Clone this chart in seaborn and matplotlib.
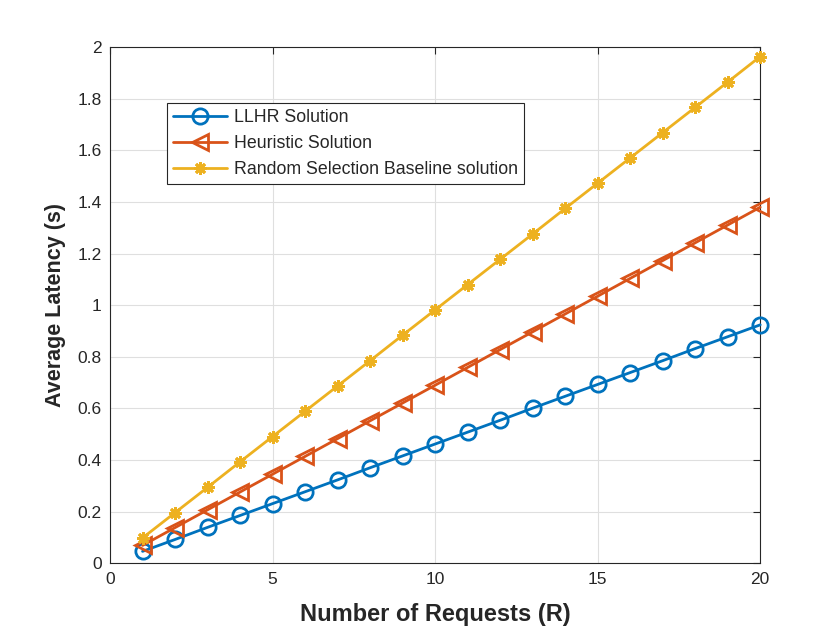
import matplotlib
matplotlib.use("Agg")
import matplotlib.pyplot as plt
import seaborn as sns
import pandas as pd

requests = list(range(1, 21))
llhr = [0.046, 0.092, 0.139, 0.185, 0.231, 0.277, 0.323, 0.370, 0.416, 0.462,
        0.508, 0.554, 0.601, 0.647, 0.693, 0.739, 0.785, 0.832, 0.878, 0.924]
heuristic = [0.069, 0.138, 0.207, 0.276, 0.345, 0.414, 0.483, 0.552, 0.621, 0.690,
             0.759, 0.828, 0.897, 0.966, 1.035, 1.104, 1.173, 1.242, 1.311, 1.380]
random_sel = [0.098, 0.196, 0.294, 0.393, 0.491, 0.589, 0.687, 0.785, 0.884, 0.982,
              1.080, 1.178, 1.276, 1.375, 1.473, 1.571, 1.669, 1.767, 1.865, 1.964]
series_names = ["LLHR Solution", "Heuristic Solution", "Random Selection Baseline solution"]
colors = ["#0072BD", "#D95319", "#EDB120"]
markers = ["o", "<", (8, 2, 0)]
marker_sizes = [11, 12, 9]

sns.set_theme(style="whitegrid")
plt.rcParams["font.family"] = ["Liberation Sans", "DejaVu Sans"]

fig = plt.figure(figsize=(8.4, 6.3), dpi=100)
ax = fig.add_axes([0.131, 0.106, 0.774, 0.819])

for name, vals, c, m, ms in zip(series_names, [llhr, heuristic, random_sel],
                                colors, markers, marker_sizes):
    df = pd.DataFrame({"R": requests, "lat": vals})
    filled = not isinstance(m, str)
    sns.lineplot(data=df, x="R", y="lat", ax=ax, color=c, linewidth=2, label=name,
                 marker=m, markersize=ms,
                 markerfacecolor=c if filled else "none",
                 markeredgecolor=c, markeredgewidth=2, clip_on=False, zorder=3)

ax.set_xlim(0, 20)
ax.set_ylim(0, 2)
ax.set_xticks([0, 5, 10, 15, 20])
ax.set_yticks([0, 0.2, 0.4, 0.6, 0.8, 1.0, 1.2, 1.4, 1.6, 1.8, 2.0])
ax.set_yticklabels(["0", "0.2", "0.4", "0.6", "0.8", "1", "1.2", "1.4", "1.6", "1.8", "2"])
ax.tick_params(direction="in", length=5, width=0.8, top=True, right=True,
               labelsize=12.5, colors="#262626", pad=6)
ax.grid(True, color="#dfdfdf", linewidth=0.8)
ax.set_axisbelow(True)
ax.set_facecolor("white")
for s in ax.spines.values():
    s.set_color("#262626")
    s.set_linewidth(0.8)
ax.set_xlabel("Number of Requests (R)", fontsize=17, fontweight="bold",
              color="#262626", labelpad=12)
ax.set_ylabel("Average Latency (s)", fontsize=15.5, fontweight="bold",
              color="#262626", labelpad=8)

leg = ax.legend(loc="upper left", bbox_to_anchor=(0.088, 0.892), borderaxespad=0,
                fontsize=12.8, frameon=True, fancybox=False, handlelength=3,
                borderpad=0.35, labelspacing=0.5, handletextpad=0.4)
leg.get_frame().set_edgecolor("#262626")
leg.get_frame().set_linewidth(0.8)
leg.get_frame().set_alpha(1)

fig.savefig("out.png", dpi=100)
